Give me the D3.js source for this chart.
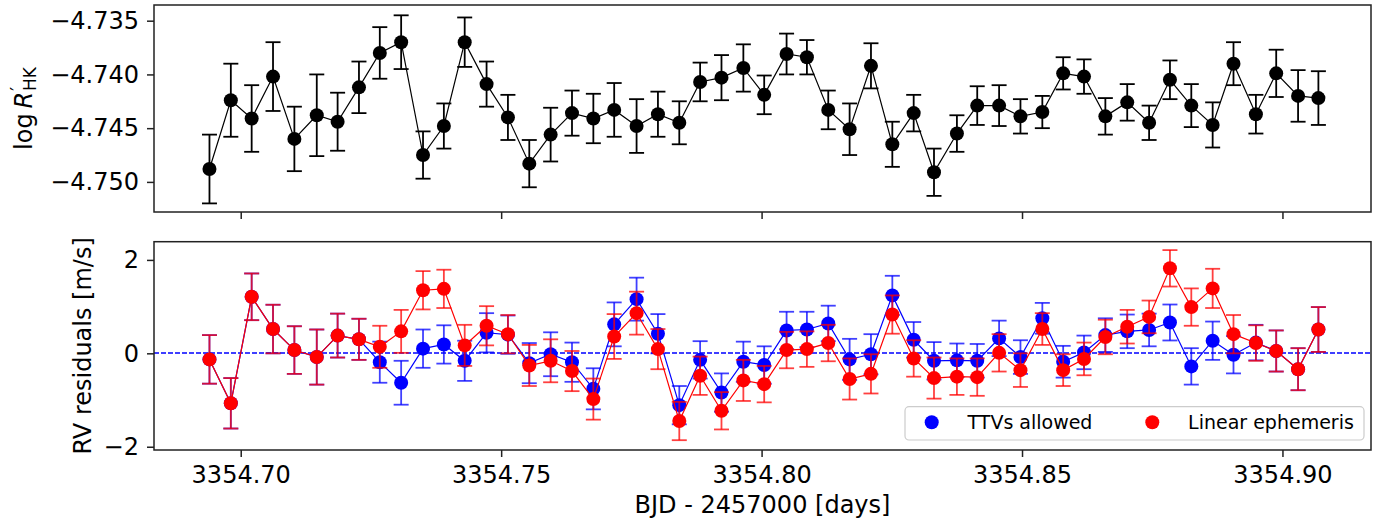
<!DOCTYPE html>
<html lang="en">
<head>
<meta charset="utf-8">
<style>
  body { margin: 0; background: white; }
  svg { font-family: 'DejaVu Sans', sans-serif; background: white; }
  .spine { fill: none; stroke: #222; stroke-width: 1.5px; }
  .tick line { stroke: #222; stroke-width: 1.5px; }
  .domain { display: none; }
</style>
</head>
<body>
<svg width="1383" height="527"></svg>
<script src="https://d3js.org/d3.v7.min.js"></script>
<script>
// BJD - 2457000
var times = [3354.6940, 3354.6981, 3354.7021, 3354.7062, 3354.7103, 3354.7146, 3354.7186, 3354.7227,
  3354.7267, 3354.7308, 3354.7350, 3354.7390, 3354.7430, 3354.7472, 3354.7513, 3354.7554, 3354.7595,
  3354.7636, 3354.7677, 3354.7717, 3354.7760, 3354.7801, 3354.7842, 3354.7882, 3354.7923, 3354.7965,
  3354.8005, 3354.8048, 3354.8087, 3354.8128, 3354.8169, 3354.8210, 3354.8251, 3354.8292, 3354.8331,
  3354.8375, 3354.8414, 3354.8456, 3354.8497, 3354.8539, 3354.8579, 3354.8619, 3354.8660, 3354.8702,
  3354.8744, 3354.8784, 3354.8825, 3354.8866, 3354.8906, 3354.8949, 3354.8988, 3354.9030, 3354.9069];

var logRhk = [-4.7488, -4.7424, -4.7441, -4.7402, -4.7460, -4.7438, -4.7444, -4.7412, -4.7380, -4.7370,
  -4.7475, -4.7448, -4.7370, -4.7409, -4.7440, -4.7483, -4.7456, -4.7436, -4.7441, -4.7433, -4.7448,
  -4.7437, -4.7445, -4.7407, -4.7403, -4.7394, -4.7419, -4.7381, -4.7384, -4.7433, -4.7451, -4.7392,
  -4.7465, -4.7436, -4.7491, -4.7455, -4.7429, -4.7429, -4.7439, -4.7435, -4.7399, -4.7402, -4.7439,
  -4.7426, -4.7445, -4.7405, -4.7429, -4.7447, -4.7390, -4.7437, -4.7399, -4.7420, -4.7422];
var logRhkErr = [0.0032, 0.0034, 0.0031, 0.0032, 0.0030, 0.0038, 0.0027, 0.0024, 0.0024, 0.0025, 0.0022,
  0.0021, 0.0023, 0.0021, 0.0021, 0.0022, 0.0025, 0.0021, 0.0023, 0.0025, 0.0025, 0.0021, 0.0020, 0.0018,
  0.0021, 0.0022, 0.0018, 0.0019, 0.0016, 0.0018, 0.0024, 0.0021, 0.0021, 0.0017, 0.0022, 0.0017, 0.0018,
  0.0019, 0.0016, 0.0015, 0.0015, 0.0016, 0.0017, 0.0017, 0.0016, 0.0018, 0.0020, 0.0021, 0.0020, 0.0018,
  0.0022, 0.0024, 0.0025];

// RV residuals [m/s]
var rvTTV = [-0.13, -1.07, 1.21, 0.52, 0.07, -0.08, 0.38, 0.30, -0.19, -0.63, 0.10, 0.19, -0.16, 0.44,
  0.40, -0.21, -0.02, -0.19, -0.76, 0.62, 1.16, 0.42, -1.11, -0.14, -0.84, -0.18, -0.25, 0.49, 0.51, 0.64,
  -0.13, -0.02, 1.24, 0.29, -0.16, -0.15, -0.16, 0.32, -0.08, 0.75, -0.18, 0.02, 0.39, 0.47, 0.50, 0.66,
  -0.28, 0.27, -0.03, 0.23, 0.05, -0.34, 0.51];
var rvTTVErr = [0.52, 0.54, 0.50, 0.52, 0.51, 0.59, 0.47, 0.44, 0.44, 0.47, 0.41, 0.41, 0.43, 0.42, 0.41,
  0.43, 0.47, 0.42, 0.44, 0.47, 0.46, 0.42, 0.41, 0.40, 0.41, 0.43, 0.40, 0.40, 0.38, 0.38, 0.44, 0.43,
  0.42, 0.38, 0.40, 0.36, 0.36, 0.38, 0.36, 0.33, 0.34, 0.36, 0.36, 0.36, 0.35, 0.385, 0.39, 0.41, 0.40,
  0.38, 0.44, 0.45, 0.48];
var rvLin = [-0.13, -1.07, 1.21, 0.52, 0.07, -0.08, 0.38, 0.30, 0.14, 0.47, 1.35, 1.38, 0.17, 0.59, 0.41,
  -0.26, -0.16, -0.38, -0.98, 0.36, 0.86, 0.09, -1.45, -0.48, -1.23, -0.58, -0.66, 0.07, 0.09, 0.22, -0.55,
  -0.44, 0.83, -0.11, -0.53, -0.50, -0.51, 0.01, -0.36, 0.52, -0.36, -0.12, 0.35, 0.57, 0.78, 1.82, 0.99,
  1.39, 0.41, 0.22, 0.05, -0.34, 0.51];
var rvLinErr = [0.52, 0.54, 0.50, 0.52, 0.51, 0.59, 0.47, 0.44, 0.45, 0.46, 0.41, 0.41, 0.44, 0.42, 0.41,
  0.44, 0.46, 0.43, 0.44, 0.48, 0.46, 0.43, 0.41, 0.41, 0.40, 0.44, 0.39, 0.39, 0.38, 0.39, 0.44, 0.42,
  0.41, 0.39, 0.44, 0.39, 0.40, 0.40, 0.36, 0.34, 0.34, 0.35, 0.37, 0.36, 0.35, 0.39, 0.40, 0.42, 0.41,
  0.38, 0.44, 0.45, 0.48];

var topTicks = [-4.750, -4.745, -4.740, -4.735];
var botTicks = [-2, 0, 2];
var xTicks = [3354.70, 3354.75, 3354.80, 3354.85, 3354.90];
var seriesNames = ["TTVs allowed", "Linear ephemeris"];

var svg = d3.select("svg");
var left = 154, right = 1371;
var topPanel = { top: 5, bottom: 212 },
    botPanel = { top: 241.7, bottom: 450 };

var x = d3.scaleLinear().domain([3354.68335, 3354.917]).range([left, right]);
var yTop = d3.scaleLinear().domain([-4.7528, -4.73354]).range([topPanel.bottom, topPanel.top]);
var yBot = d3.scaleLinear().domain([-2.07, 2.39]).range([botPanel.bottom, botPanel.top]);

var minus = s => s.replace("-", "\u2212");

function errSeries(g, yScale, ys, es, color, errOpacity, lineW) {
  var pts = times.map((t, i) => ({ t: t, v: ys[i], e: es[i] }));
  var eb = g.append("g").attr("stroke", color).attr("stroke-opacity", errOpacity).attr("stroke-width", 1.8);
  eb.selectAll("line.bar").data(pts).enter().append("line").attr("class", "bar")
    .attr("x1", d => x(d.t)).attr("x2", d => x(d.t))
    .attr("y1", d => yScale(d.v - d.e)).attr("y2", d => yScale(d.v + d.e));
  [-1, 1].forEach(s => {
    eb.selectAll("line.cap" + (s + 1)).data(pts).enter().append("line").attr("class", "cap" + (s + 1))
      .attr("x1", d => x(d.t) - 7.5).attr("x2", d => x(d.t) + 7.5)
      .attr("y1", d => yScale(d.v + s * d.e)).attr("y2", d => yScale(d.v + s * d.e));
  });
  g.append("path").datum(pts)
    .attr("fill", "none").attr("stroke", color).attr("stroke-width", lineW)
    .attr("d", d3.line().x(d => x(d.t)).y(d => yScale(d.v)));
  g.append("g").selectAll("circle").data(pts).enter().append("circle")
    .attr("cx", d => x(d.t)).attr("cy", d => yScale(d.v)).attr("r", 7)
    .attr("fill", color);
}

// ---- top panel
var gTop = svg.append("g");
errSeries(gTop, yTop, logRhk, logRhkErr, "black", 1, 1.2);

gTop.append("g").attr("transform", "translate(" + left + ",0)")
  .call(d3.axisLeft(yTop).tickValues(topTicks).tickSize(7).tickPadding(8).tickFormat(d => minus(d3.format(".3f")(d))))
  .call(g => g.selectAll("text").attr("font-size", 24).attr("font-family", "DejaVu Sans").attr("fill", "black"));
gTop.append("g").attr("transform", "translate(0," + topPanel.bottom + ")")
  .call(d3.axisBottom(x).tickValues(xTicks).tickSize(7).tickFormat(""));
gTop.append("rect").attr("class", "spine")
  .attr("x", left).attr("y", topPanel.top).attr("width", right - left).attr("height", topPanel.bottom - topPanel.top);

var lab = gTop.append("text").attr("transform", "rotate(-90)")
  .attr("x", -(topPanel.top + topPanel.bottom) / 2).attr("y", 32)
  .attr("text-anchor", "middle").attr("font-size", 24);
lab.append("tspan").text("log\u2009");
lab.append("tspan").attr("font-style", "italic").text("R");
lab.append("tspan").attr("font-size", 17).attr("dy", -9).attr("dx", 1).text("\u2032");
lab.append("tspan").attr("font-size", 17).attr("dy", 13).attr("dx", -4).text("HK");

// ---- bottom panel
var gBot = svg.append("g");
var y0 = Math.round(yBot(0));
gBot.append("line")
  .attr("x1", left).attr("x2", right).attr("y1", y0).attr("y2", y0)
  .attr("stroke", "blue").attr("stroke-width", 1.4).attr("stroke-dasharray", "5,2");

errSeries(gBot, yBot, rvTTV, rvTTVErr, "blue", 0.75, 1.2);
errSeries(gBot, yBot, rvLin, rvLinErr, "red", 0.75, 1.2);

gBot.append("g").attr("transform", "translate(" + left + ",0)")
  .call(d3.axisLeft(yBot).tickValues(botTicks).tickSize(7).tickPadding(8).tickFormat(d => minus(String(d))))
  .call(g => g.selectAll("text").attr("font-size", 24).attr("font-family", "DejaVu Sans").attr("fill", "black"));
gBot.append("g").attr("transform", "translate(0," + botPanel.bottom + ")")
  .call(d3.axisBottom(x).tickValues(xTicks).tickSize(7).tickPadding(9).tickFormat(d3.format(".2f")))
  .call(g => g.selectAll("text").attr("font-size", 24).attr("font-family", "DejaVu Sans").attr("fill", "black"));
gBot.append("rect").attr("class", "spine")
  .attr("x", left).attr("y", botPanel.top).attr("width", right - left).attr("height", botPanel.bottom - botPanel.top);

gBot.append("text").attr("transform", "rotate(-90)")
  .attr("x", -(botPanel.top + botPanel.bottom) / 2).attr("y", 91)
  .attr("text-anchor", "middle").attr("font-size", 24).text("RV residuals [m/s]");

svg.append("text").attr("x", (left + right) / 2).attr("y", 513)
  .attr("text-anchor", "middle").attr("font-size", 24).text("BJD - 2457000 [days]");

// ---- legend
var leg = svg.append("g");
leg.append("rect").attr("x", 905).attr("y", 406.7).attr("width", 459).attr("height", 33.3).attr("rx", 4)
  .attr("fill", "white").attr("fill-opacity", 0.8).attr("stroke", "#cccccc").attr("stroke-width", 1.2);
var legX = [931.7, 1152.3], legColors = ["blue", "red"];
seriesNames.forEach((n, i) => {
  leg.append("circle").attr("cx", legX[i]).attr("cy", 422.3).attr("r", 7).attr("fill", legColors[i]);
  leg.append("text").attr("x", legX[i] + 35.8).attr("y", 429).attr("font-size", 19).text(n);
});
</script>
</body>
</html>
